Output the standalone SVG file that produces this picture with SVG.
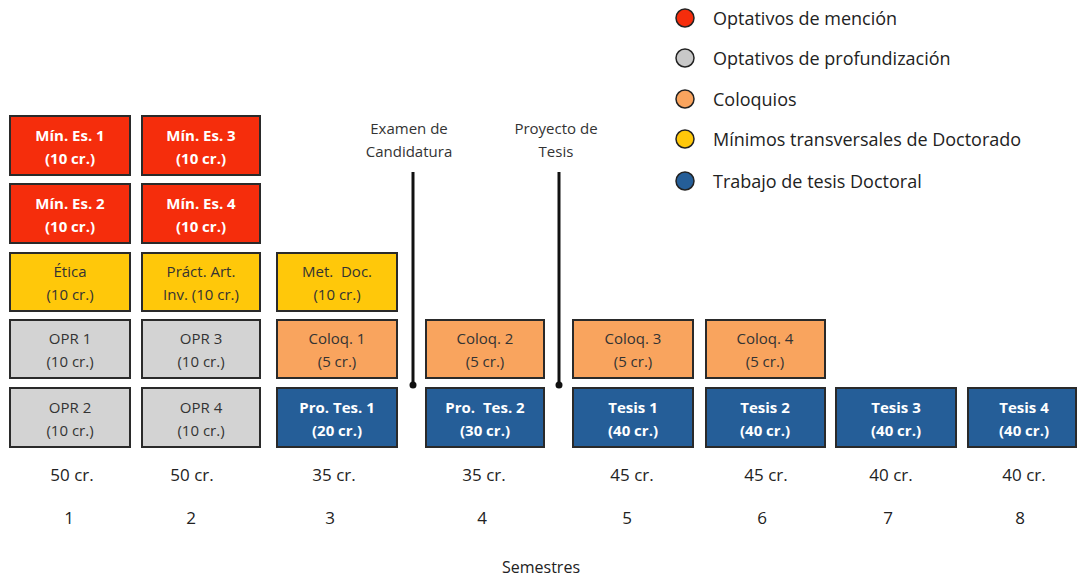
<svg xmlns="http://www.w3.org/2000/svg" width="1077" height="579" viewBox="0 0 1077 579">
<defs>
<style>
.b rect{stroke:#2a2a2a;stroke-width:2}
.red rect{fill:#F52D0C}
.yel rect{fill:#FFC80A}
.gry rect{fill:#D3D3D3}
.org rect{fill:#F9A45E}
.blu rect{fill:#255E98}
text{font-family:"Open Sans","Liberation Sans",sans-serif;text-anchor:middle}
.b text{font-size:15px}
.red text,.blu text{fill:#fff;font-weight:bold}
.yel text,.gry text,.org text{fill:#333}
.lg text{text-anchor:start;font-size:18px;fill:#222}
.lg circle{stroke:#222;stroke-width:1.5}
.ax{font-size:17px;fill:#222}
.ms{font-size:15px;fill:#333}
</style>
</defs>
<rect width="1077" height="579" fill="#fff"/>

<g id="legend" class="lg">
<circle cx="685" cy="18" r="9" fill="#F52D0C"/><text x="713" y="25">Optativos de mención</text>
<circle cx="685" cy="58" r="9" fill="#C8C8C8"/><text x="713" y="65">Optativos de profundización</text>
<circle cx="685" cy="99" r="9" fill="#F9A45E"/><text x="713" y="106">Coloquios</text>
<circle cx="685" cy="139" r="9" fill="#FFC80A"/><text x="713" y="146">Mínimos transversales de Doctorado</text>
<circle cx="685" cy="181" r="9" fill="#255E98"/><text x="713" y="188">Trabajo de tesis Doctoral</text>
</g>

<g id="connectors" stroke="#111" stroke-width="3" fill="#111">
<line x1="413" y1="172" x2="413" y2="385"/>
<circle cx="413" cy="385" r="3.5" stroke="none"/>
<line x1="559" y1="172" x2="559" y2="385"/>
<circle cx="559" cy="385" r="3.5" stroke="none"/>
</g>
<g id="milestone-labels" class="ms">
<text x="409" y="134">Examen de</text><text x="409" y="157">Candidatura</text>
<text x="556" y="134">Proyecto de</text><text x="556" y="157">Tesis</text>
</g>

<g id="mines1" class="b red"><rect x="10" y="116" width="120" height="59"/><text x="70" y="141">Mín. Es. 1</text><text x="70" y="164">(10 cr.)</text></g>
<g id="mines3" class="b red"><rect x="142" y="116" width="118" height="59"/><text x="201" y="141">Mín. Es. 3</text><text x="201" y="164">(10 cr.)</text></g>
<g id="mines2" class="b red"><rect x="10" y="184" width="120" height="59"/><text x="70" y="209">Mín. Es. 2</text><text x="70" y="232">(10 cr.)</text></g>
<g id="mines4" class="b red"><rect x="142" y="184" width="118" height="59"/><text x="201" y="209">Mín. Es. 4</text><text x="201" y="232">(10 cr.)</text></g>

<g id="etica" class="b yel"><rect x="10" y="253" width="120" height="58"/><text x="70" y="277">Ética</text><text x="70" y="300">(10 cr.)</text></g>
<g id="pract" class="b yel"><rect x="142" y="253" width="118" height="58"/><text x="201" y="277">Práct. Art.</text><text x="201" y="300">Inv. (10 cr.)</text></g>
<g id="metdoc" class="b yel"><rect x="277" y="253" width="120" height="58"/><text x="337" y="277" xml:space="preserve">Met.  Doc.</text><text x="337" y="300">(10 cr.)</text></g>

<g id="opr1" class="b gry"><rect x="10" y="320" width="120" height="58"/><text x="70" y="344">OPR 1</text><text x="70" y="367">(10 cr.)</text></g>
<g id="opr3" class="b gry"><rect x="142" y="320" width="118" height="58"/><text x="201" y="344">OPR 3</text><text x="201" y="367">(10 cr.)</text></g>
<g id="coloq1" class="b org"><rect x="277" y="320" width="120" height="58"/><text x="337" y="344">Coloq. 1</text><text x="337" y="367">(5 cr.)</text></g>
<g id="coloq2" class="b org"><rect x="426" y="320" width="118" height="58"/><text x="485" y="344">Coloq. 2</text><text x="485" y="367">(5 cr.)</text></g>
<g id="coloq3" class="b org"><rect x="573" y="320" width="120" height="58"/><text x="633" y="344">Coloq. 3</text><text x="633" y="367">(5 cr.)</text></g>
<g id="coloq4" class="b org"><rect x="706" y="320" width="119" height="58"/><text x="765" y="344">Coloq. 4</text><text x="765" y="367">(5 cr.)</text></g>

<g id="opr2" class="b gry"><rect x="10" y="388" width="120" height="59"/><text x="70" y="413">OPR 2</text><text x="70" y="436">(10 cr.)</text></g>
<g id="opr4" class="b gry"><rect x="142" y="388" width="118" height="59"/><text x="201" y="413">OPR 4</text><text x="201" y="436">(10 cr.)</text></g>
<g id="protes1" class="b blu"><rect x="277" y="388" width="120" height="59"/><text x="337" y="413">Pro. Tes. 1</text><text x="337" y="436">(20 cr.)</text></g>
<g id="protes2" class="b blu"><rect x="426" y="388" width="118" height="59"/><text x="485" y="413" xml:space="preserve">Pro.  Tes. 2</text><text x="485" y="436">(30 cr.)</text></g>
<g id="tesis1" class="b blu"><rect x="573" y="388" width="120" height="59"/><text x="633" y="413">Tesis 1</text><text x="633" y="436">(40 cr.)</text></g>
<g id="tesis2" class="b blu"><rect x="706" y="388" width="119" height="59"/><text x="765" y="413">Tesis 2</text><text x="765" y="436">(40 cr.)</text></g>
<g id="tesis3" class="b blu"><rect x="836" y="388" width="120" height="59"/><text x="896" y="413">Tesis 3</text><text x="896" y="436">(40 cr.)</text></g>
<g id="tesis4" class="b blu"><rect x="968" y="388" width="108" height="59"/><text x="1024" y="413">Tesis 4</text><text x="1024" y="436">(40 cr.)</text></g>

<g id="axis" class="ax">
<text x="72" y="481">50 cr.</text><text x="192" y="481">50 cr.</text><text x="334" y="481">35 cr.</text><text x="484" y="481">35 cr.</text>
<text x="632" y="481">45 cr.</text><text x="766" y="481">45 cr.</text><text x="891" y="481">40 cr.</text><text x="1024" y="481">40 cr.</text>
<text x="69" y="524">1</text><text x="191" y="524">2</text><text x="330" y="524">3</text><text x="482" y="524">4</text>
<text x="627" y="524">5</text><text x="762" y="524">6</text><text x="888" y="524">7</text><text x="1020" y="524">8</text>
<text x="541" y="573" style="font-size:16px">Semestres</text>
</g>
</svg>
